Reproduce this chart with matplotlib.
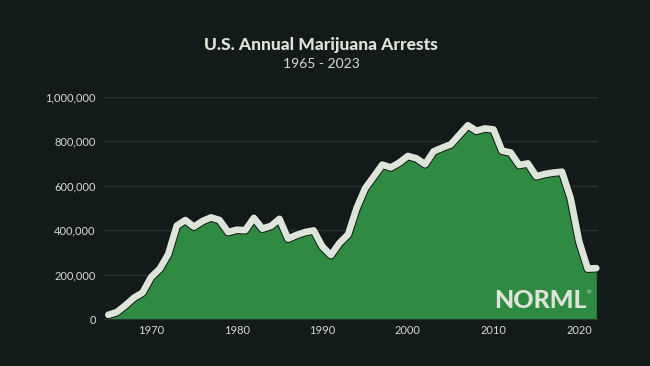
import matplotlib.pyplot as plt
import matplotlib.patheffects as pe
from matplotlib.ticker import FuncFormatter
import numpy as np

# FBI UCR marijuana arrests; 2021 is missing from the series
years = [1965, 1966, 1967, 1968, 1969, 1970, 1971, 1972, 1973, 1974,
         1975, 1976, 1977, 1978, 1979, 1980, 1981, 1982, 1983, 1984,
         1985, 1986, 1987, 1988, 1989, 1990, 1991, 1992, 1993, 1994,
         1995, 1996, 1997, 1998, 1999, 2000, 2001, 2002, 2003, 2004,
         2005, 2006, 2007, 2008, 2009, 2010, 2011, 2012, 2013, 2014,
         2015, 2016, 2017, 2018, 2019, 2020, 2022, 2023]
arrests = [18815, 31119, 61843, 95870, 118903, 188682, 225828, 292179, 420700, 445600,
           416100, 441100, 457600, 445800, 391600, 401982, 400300, 455600, 406900, 419400,
           451138, 361800, 378709, 391600, 399000, 326850, 287850, 342314, 380700, 499122,
           588963, 641642, 695201, 682885, 704812, 734497, 723627, 697082, 755186, 771605,
           786545, 829625, 872720, 847864, 858408, 853839, 757969, 749825, 693482, 700993,
           643121, 653249, 659700, 663367, 545602, 350150, 227108, 229000]
tick_years = [1970, 1980, 1990, 2000, 2010, 2020]
y_ticks = [0, 200000, 400000, 600000, 800000, 1000000]

bg = '#121a1a'
green = '#2f8b41'
light = '#dde5da'
grid_c = '#29332f'
label_c = '#d6dbd4'

plt.rcParams['font.family'] = ['Lato', 'DejaVu Sans']

fig = plt.figure(figsize=(6.5, 3.66), dpi=100, facecolor=bg)
ax = fig.add_axes([104/650, 1 - 319/366, 494/650, 222/366])
ax.set_facecolor(bg)

x = np.arange(len(years))
ax.fill_between(x, arrests, 0, color=green, lw=0, zorder=2)
ax.plot(x, arrests, color=light, lw=4.8, solid_joinstyle='round',
        solid_capstyle='round', zorder=3, clip_on=False,
        path_effects=[pe.Stroke(linewidth=6.2, foreground='#0f1714'), pe.Normal()])

ax.set_xlim(-0.5, 57.2)
ax.set_ylim(0, 1000000)

ax.set_yticks(y_ticks)
ax.yaxis.set_major_formatter(FuncFormatter(lambda v, p: f'{int(v):,}'))
ax.set_xticks([years.index(t) for t in tick_years])
ax.set_xticklabels([str(t) for t in tick_years])

ax.grid(axis='y', color=grid_c, lw=1, zorder=1)
ax.tick_params(axis='both', length=0, colors=label_c, labelsize=8)
ax.tick_params(axis='y', pad=6)
ax.tick_params(axis='x', pad=4)
for s in ['top', 'right', 'left']:
    ax.spines[s].set_visible(False)
ax.spines['bottom'].set_color('#2c3633')
ax.spines['bottom'].set_zorder(4)

fig.text(0.494, 1 - 45/366, 'U.S. Annual Marijuana Arrests', ha='center', va='center',
         color=light, fontsize=12.5, fontweight='black')
fig.text(0.494, 1 - 64/366, '1965 - 2023', ha='center', va='center',
         color=label_c, fontsize=10, fontweight='normal')

# logo
fig.text(587/650, 1 - 301/366, 'NORML', ha='right', va='center', color=light,
         fontsize=18, fontweight='black', zorder=5)
fig.text(587/650, 1 - 293/366, '®', ha='left', va='center', color=light,
         fontsize=4, zorder=5)

fig.savefig('out.png', dpi=100, facecolor=bg)
